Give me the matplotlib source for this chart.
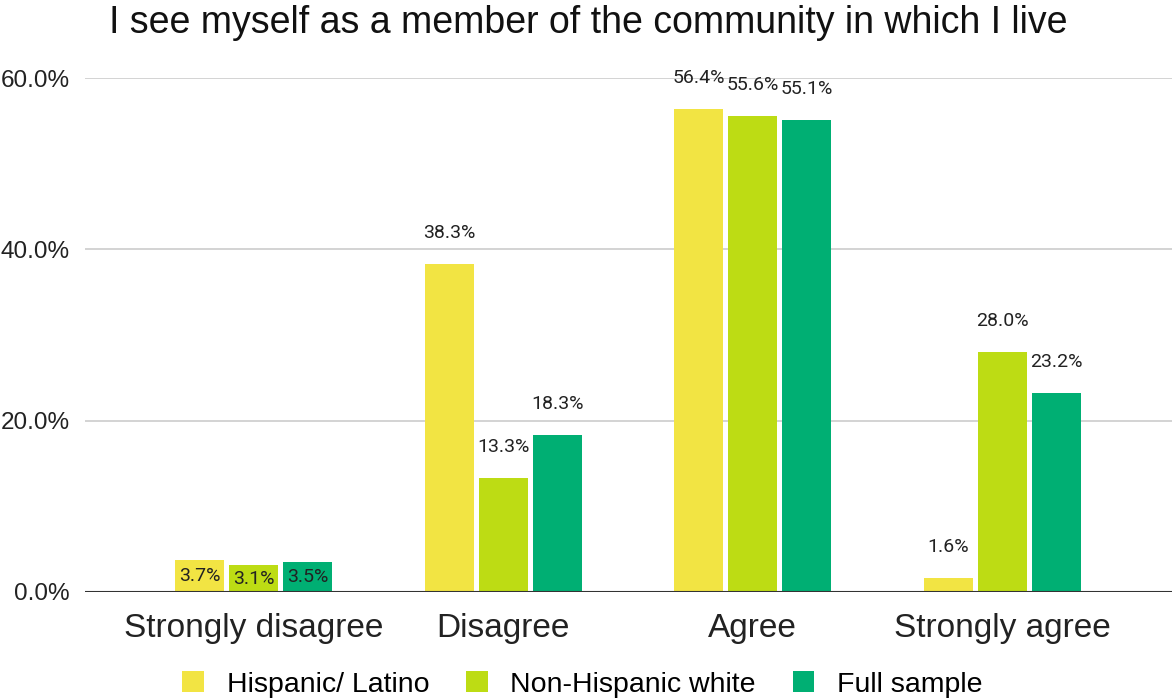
import numpy as np
import matplotlib
matplotlib.use("Agg")
import matplotlib.pyplot as plt

# Datos
categories = ["Strongly disagree", "Disagree", "Agree", "Strongly agree"]
series_names = ["Hispanic/ Latino", "Non-Hispanic white", "Full sample"]
hispanic = [3.7, 38.3, 56.4, 1.6]
non_hispanic_white = [3.1, 13.3, 55.6, 28.0]
full_sample = [3.5, 18.3, 55.1, 23.2]
y_ticks = [0, 20, 40, 60]

colors = ["#F2E443", "#BDDC14", "#00AF73"]
series = [hispanic, non_hispanic_white, full_sample]

plt.rcParams["font.family"] = ["Liberation Sans", "DejaVu Sans"]

fig = plt.figure(figsize=(11.72, 6.98), dpi=100)
ax = fig.add_axes([0.0725, 0.152, 0.9275, 0.736])

x = np.arange(len(categories))
step = 0.216
width = 0.196

for i, (vals, col, name) in enumerate(zip(series, colors, series_names)):
    pos = x + (i - 1) * step
    ax.bar(pos, vals, width=width, color=col, label=name, zorder=3)
    for j, (p, v) in enumerate(zip(pos, vals)):
        if j == 0:
            # etiqueta dentro de la barra pequeña
            ax.text(p, v / 2, f"{v:.1f}%", ha="center", va="center",
                    fontsize=14, family="Roboto", color="#222222", zorder=4)
        else:
            ax.annotate(f"{v:.1f}%", (p, v), xytext=(0, 31),
                        textcoords="offset pixels", ha="center", va="center",
                        fontsize=14, family="Roboto", color="#222222",
                        annotation_clip=False)

ax.set_xlim(-0.676, 3.68)
ax.set_ylim(0, 60)
ax.set_yticks(y_ticks)
ax.set_yticklabels([f"{t:.1f}%" for t in y_ticks], fontsize=17.5, color="#222222")
ax.set_xticks(x)
ax.set_xticklabels(categories, fontsize=24, color="#222222")
ax.tick_params(axis="both", length=0)
ax.tick_params(axis="y", pad=11)
ax.tick_params(axis="x", pad=15)

ax.grid(axis="y", color="#CCCCCC", linewidth=1.2, zorder=0)
ax.axhline(0, color="#333333", linewidth=1.5, zorder=5)
for s in ax.spines.values():
    s.set_visible(False)

fig.suptitle("I see myself as a member of the community in which I live",
             fontsize=27, x=0.502, y=0.993, va="top", color="#111111")

fig.legend(loc="lower center", bbox_to_anchor=(0.497, -0.036), ncol=3,
           frameon=False, fontsize=20.5, handlelength=0.75, handleheight=0.75,
           handletextpad=0.8, columnspacing=1.3)

fig.savefig("out.png", dpi=100)
